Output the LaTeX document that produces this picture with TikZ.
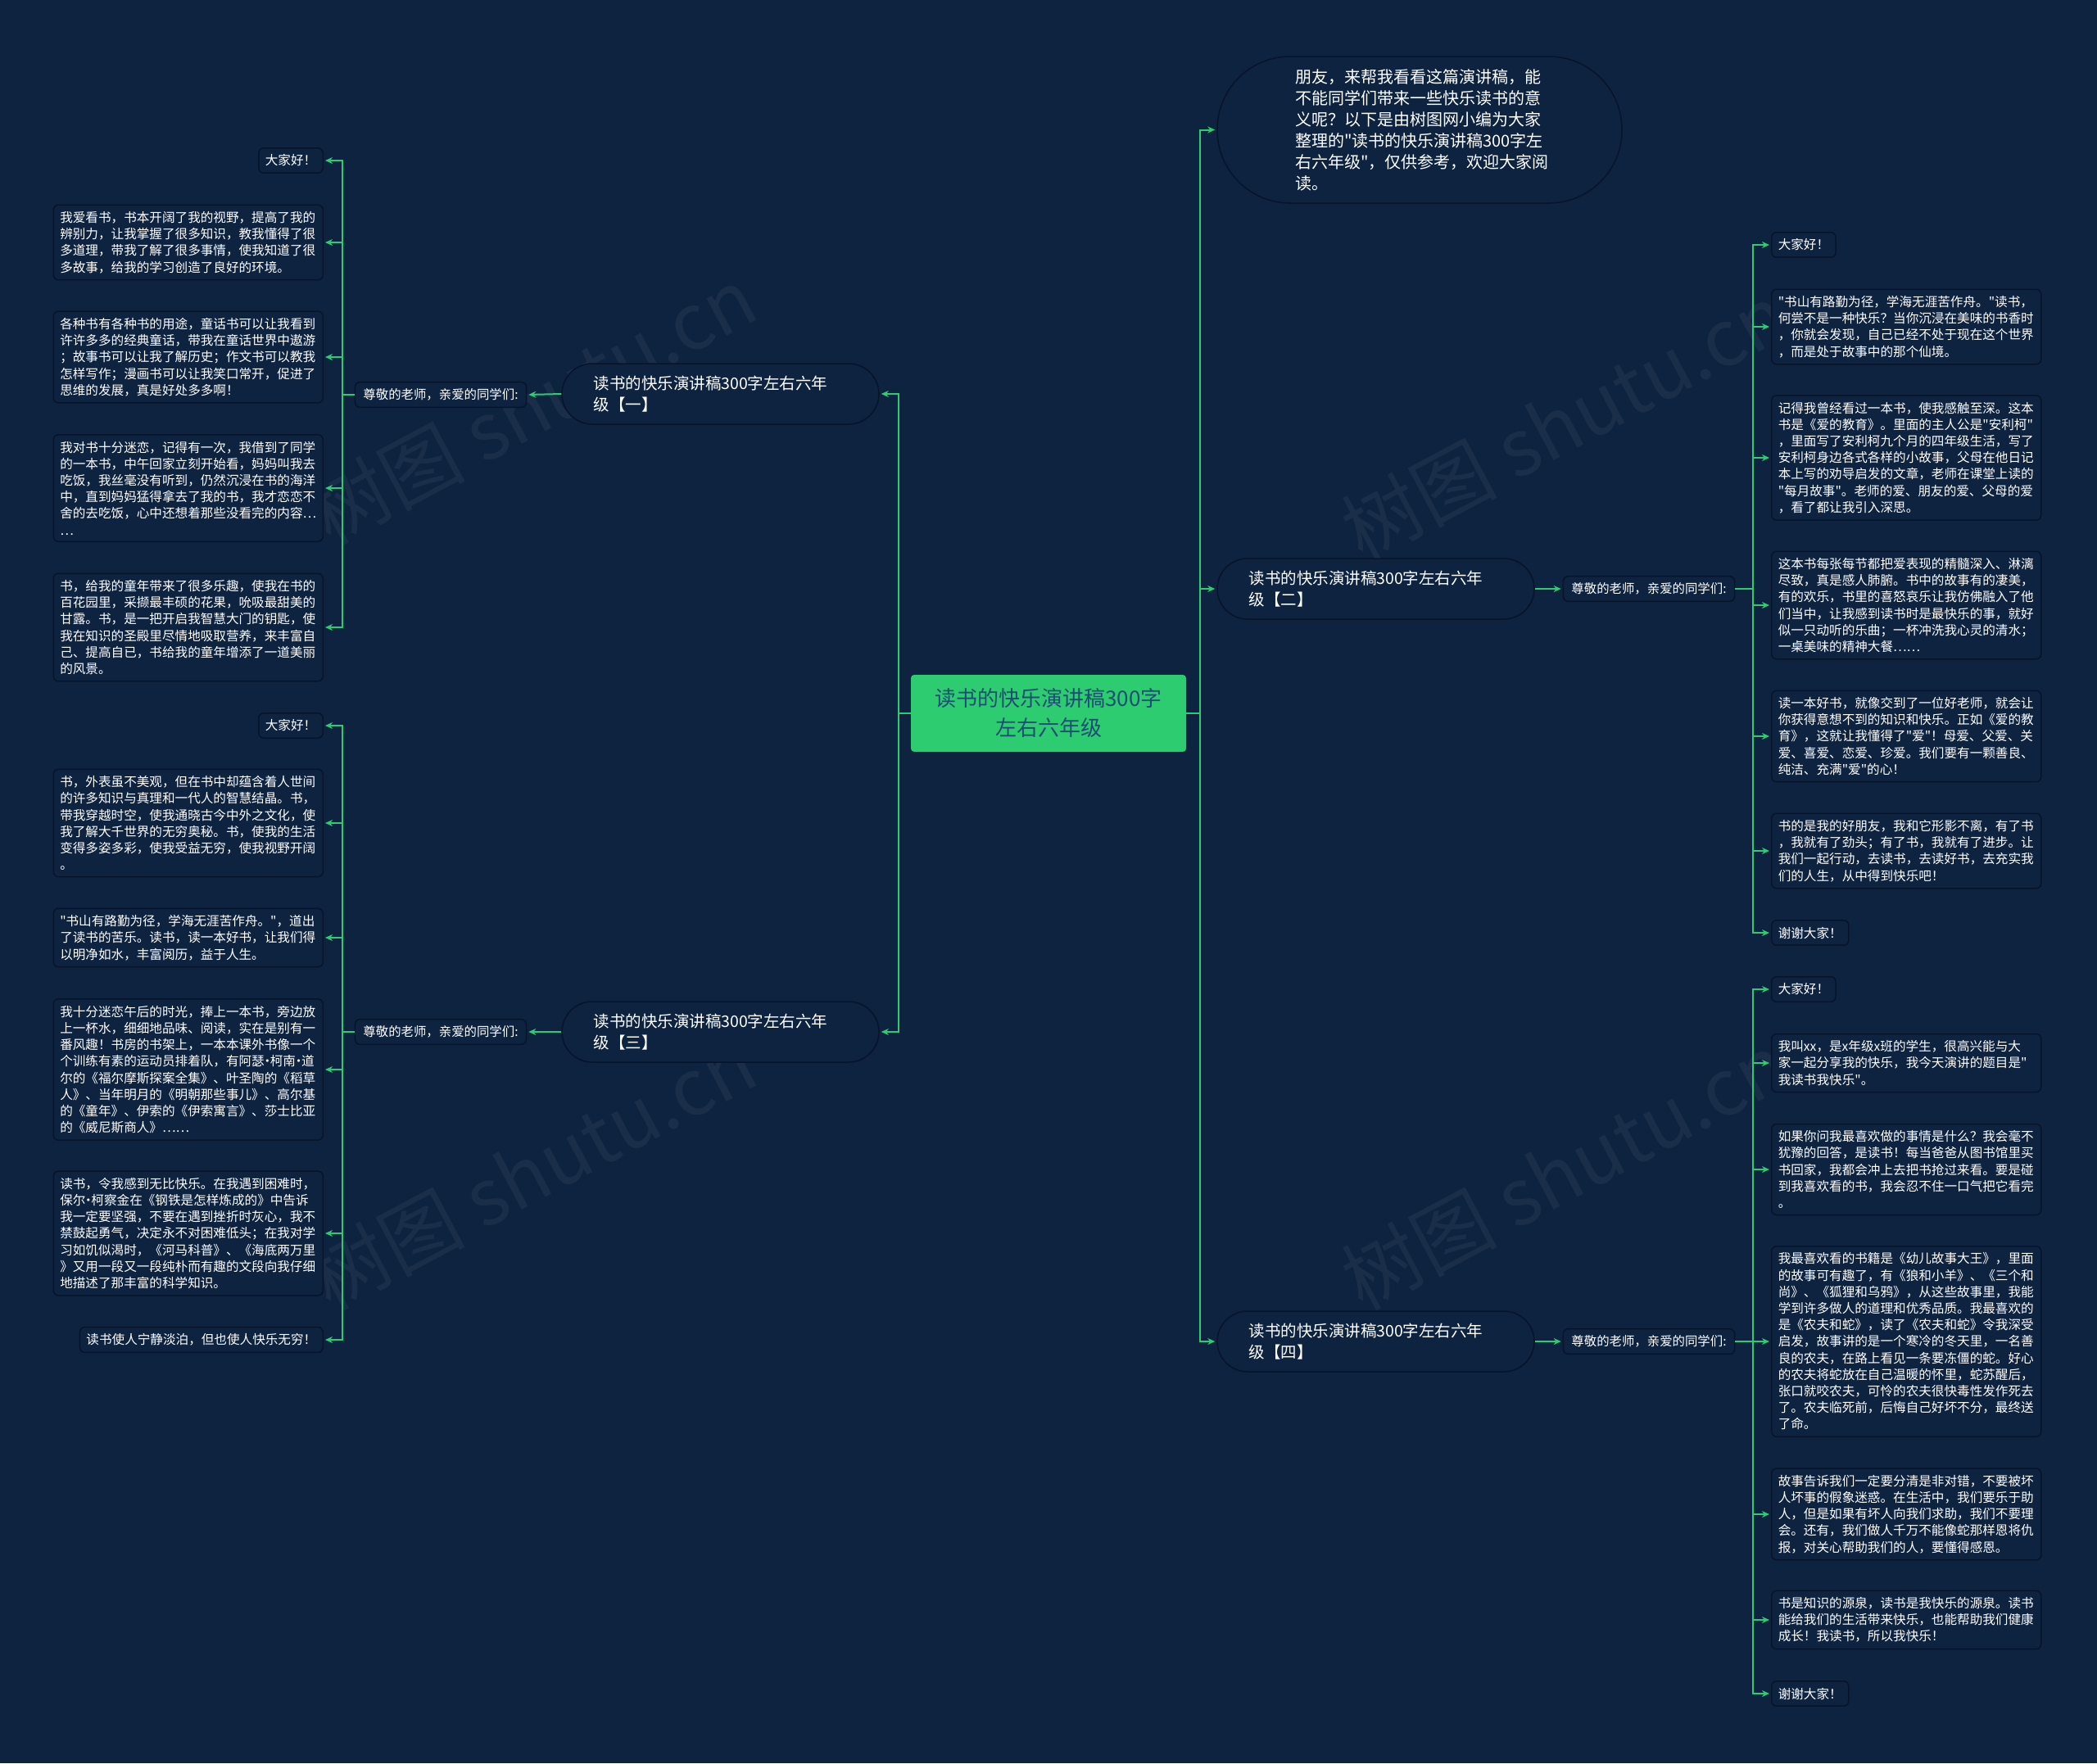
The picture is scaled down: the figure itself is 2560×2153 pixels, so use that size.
\documentclass[tikz,border=0pt]{standalone}
\usepackage{fontspec}
\setmainfont{Noto Sans CJK SC}
\newfontfamily\cjk{Noto Sans CJK SC}
\usetikzlibrary{arrows.meta}
\definecolor{bg}{HTML}{0E2340}
\definecolor{edgec}{HTML}{07142A}
\definecolor{grn}{HTML}{2ECC71}
\definecolor{ctxt}{HTML}{1B4F72}
\newcommand{\md}{\makebox[0.45em]{·}}
\tikzset{
  tbox/.style={draw=edgec, line width=1.5pt, fill=bg, rounded corners=6pt, text=white,
    font=\cjk\fontsize{15.6}{20.2}\selectfont, inner xsep=8pt, inner ysep=8pt, align=left},
  wide/.style={tbox, text width=313pt},
  lab/.style={tbox, font=\cjk\fontsize{15.4}{20}\selectfont, inner xsep=10pt},
  brnode/.style={draw=edgec, line width=1.5pt, fill=bg, rounded corners=37pt,
    minimum width=387pt, minimum height=74pt, text=white,
    font=\cjk\fontsize{19.5}{26}\selectfont, align=left, text width=310pt, inner sep=0pt},
  ctr/.style={fill=grn, rounded corners=4pt, minimum width=336pt, minimum height=94pt,
    text=ctxt, font=\cjk\fontsize{26}{36}\selectfont, align=center},
  bub/.style={draw=edgec, line width=1.5pt, fill=bg, rounded corners=89pt,
    minimum width=494pt, minimum height=179pt, text=white,
    font=\cjk\fontsize{20}{26}\selectfont, align=left, text width=304pt},
  conn/.style={draw=grn, line width=2pt},
  arr/.style={conn, -{Stealth[length=9pt,width=8pt]}, shorten >=2pt},
  wm/.style={rotate=28, opacity=0.05, text=white, font=\cjk\fontsize{95}{95}\selectfont}
}
\begin{document}
\begin{tikzpicture}[x=1pt,y=-1pt]
\fill[bg] (0,0) rectangle (2560,2153);
\useasboundingbox (0,0) rectangle (2560,2153);

% watermarks
\node[wm] (w1) at (650,495) {树图 shutu.cn};
\node[wm] (w2) at (650,1430) {树图 shutu.cn};
\node[wm] (w3) at (1910,515) {树图 shutu.cn};
\node[wm] (w4) at (1910,1430) {树图 shutu.cn};

% centre and branches
\node[ctr] (c) at (1280,871) {读书的快乐演讲稿300字\\左右六年级};
\node[bub] (top) at (1733,158.5) {朋友，来帮我看看这篇演讲稿，能\\不能同学们带来一些快乐读书的意\\义呢？以下是由树图网小编为大家\\整理的"读书的快乐演讲稿300字左\\右六年级"，仅供参考，欢迎大家阅\\读。};
\node[brnode] (b1) at (879.5,481) {读书的快乐演讲稿300字左右六年\\级【一】};
\node[brnode] (b3) at (879.5,1260) {读书的快乐演讲稿300字左右六年\\级【三】};
\node[brnode] (b2) at (1679.5,719) {读书的快乐演讲稿300字左右六年\\级【二】};
\node[brnode] (b4) at (1679.5,1638) {读书的快乐演讲稿300字左右六年\\级【四】};

% labels
\node[lab] (l1) at (538,482) {尊敬的老师，亲爱的同学们:};
\node[lab] (l3) at (538,1260) {尊敬的老师，亲爱的同学们:};
\node[lab] (l2) at (2013,719) {尊敬的老师，亲爱的同学们:};
\node[lab] (l4) at (2013,1638) {尊敬的老师，亲爱的同学们:};

% left group 1
\node[tbox, anchor=east] (a1) at (395,196) {大家好！};
\node[wide, anchor=east] (a2) at (395,296) {我爱看书，书本开阔了我的视野，提高了我的\\辨别力，让我掌握了很多知识，教我懂得了很\\多道理，带我了解了很多事情，使我知道了很\\多故事，给我的学习创造了良好的环境。};
\node[wide, anchor=east] (a3) at (395,436) {各种书有各种书的用途，童话书可以让我看到\\许许多多的经典童话，带我在童话世界中遨游\\；故事书可以让我了解历史；作文书可以教我\\怎样写作；漫画书可以让我笑口常开，促进了\\思维的发展，真是好处多多啊！};
\node[wide, anchor=east] (a4) at (395,596) {我对书十分迷恋，记得有一次，我借到了同学\\的一本书，中午回家立刻开始看，妈妈叫我去\\吃饭，我丝毫没有听到，仍然沉浸在书的海洋\\中，直到妈妈猛得拿去了我的书，我才恋恋不\\舍的去吃饭，心中还想着那些没看完的内容…\\…};
\node[wide, anchor=east] (a5) at (395,766) {书，给我的童年带来了很多乐趣，使我在书的\\百花园里，采撷最丰硕的花果，吮吸最甜美的\\甘露。书，是一把开启我智慧大门的钥匙，使\\我在知识的圣殿里尽情地吸取营养，来丰富自\\己、提高自已，书给我的童年增添了一道美丽\\的风景。};

% left group 3
\node[tbox, anchor=east] (d1) at (395,886) {大家好！};
\node[wide, anchor=east] (d2) at (395,1005) {书，外表虽不美观，但在书中却蕴含着人世间\\的许多知识与真理和一代人的智慧结晶。书，\\带我穿越时空，使我通晓古今中外之文化，使\\我了解大千世界的无穷奥秘。书，使我的生活\\变得多姿多彩，使我受益无穷，使我视野开阔\\。};
\node[wide, anchor=east] (d3) at (395,1145) {"书山有路勤为径，学海无涯苦作舟。"，道出\\了读书的苦乐。读书，读一本好书，让我们得\\以明净如水，丰富阅历，益于人生。};
\node[wide, anchor=east] (d4) at (395,1306) {我十分迷恋午后的时光，捧上一本书，旁边放\\上一杯水，细细地品味、阅读，实在是别有一\\番风趣！书房的书架上，一本本课外书像一个\\个训练有素的运动员排着队，有阿瑟\md 柯南\md 道\\尔的《福尔摩斯探案全集》、叶圣陶的《稻草\\人》、当年明月的《明朝那些事儿》、高尔基\\的《童年》、伊索的《伊索寓言》、莎士比亚\\的《威尼斯商人》……};
\node[wide, anchor=east] (d5) at (395,1506) {读书，令我感到无比快乐。在我遇到困难时，\\保尔\md 柯察金在《钢铁是怎样炼成的》中告诉\\我一定要坚强，不要在遇到挫折时灰心，我不\\禁鼓起勇气，决定永不对困难低头；在我对学\\习如饥似渴时，《河马科普》、《海底两万里\\》又用一段又一段纯朴而有趣的文段向我仔细\\地描述了那丰富的科学知识。};
\node[tbox, anchor=east] (d6) at (395,1636) {读书使人宁静淡泊，但也使人快乐无穷！};

% right group 2
\node[tbox, anchor=west] (r1) at (2162,299) {大家好！};
\node[wide, anchor=west] (r2) at (2162,399) {"书山有路勤为径，学海无涯苦作舟。"读书，\\何尝不是一种快乐？当你沉浸在美味的书香时\\，你就会发现，自己已经不处于现在这个世界\\，而是处于故事中的那个仙境。};
\node[wide, anchor=west] (r3) at (2162,559) {记得我曾经看过一本书，使我感触至深。这本\\书是《爱的教育》。里面的主人公是"安利柯"\\，里面写了安利柯九个月的四年级生活，写了\\安利柯身边各式各样的小故事，父母在他日记\\本上写的劝导启发的文章，老师在课堂上读的\\"每月故事"。老师的爱、朋友的爱、父母的爱\\，看了都让我引入深思。};
\node[wide, anchor=west] (r4) at (2162,739) {这本书每张每节都把爱表现的精髓深入、淋漓\\尽致，真是感人肺腑。书中的故事有的凄美，\\有的欢乐，书里的喜怒哀乐让我仿佛融入了他\\们当中，让我感到读书时是最快乐的事，就好\\似一只动听的乐曲；一杯冲洗我心灵的清水；\\一桌美味的精神大餐……};
\node[wide, anchor=west] (r5) at (2162,899) {读一本好书，就像交到了一位好老师，就会让\\你获得意想不到的知识和快乐。正如《爱的教\\育》，这就让我懂得了"爱"！母爱、父爱、关\\爱、喜爱、恋爱、珍爱。我们要有一颗善良、\\纯洁、充满"爱"的心！};
\node[wide, anchor=west] (r6) at (2162,1039) {书的是我的好朋友，我和它形影不离，有了书\\，我就有了劲头；有了书，我就有了进步。让\\我们一起行动，去读书，去读好书，去充实我\\们的人生，从中得到快乐吧！};
\node[tbox, anchor=west] (r7) at (2162,1139) {谢谢大家！};

% right group 4
\node[tbox, anchor=west] (s1) at (2162,1208) {大家好！};
\node[wide, anchor=west] (s2) at (2162,1298) {我叫xx，是x年级x班的学生，很高兴能与大\\家一起分享我的快乐，我今天演讲的题目是"\\我读书我快乐"。};
\node[wide, anchor=west] (s3) at (2162,1428) {如果你问我最喜欢做的事情是什么？我会毫不\\犹豫的回答，是读书！每当爸爸从图书馆里买\\书回家，我都会冲上去把书抢过来看。要是碰\\到我喜欢看的书，我会忍不住一口气把它看完\\。};
\node[wide, anchor=west] (s4) at (2162,1638) {我最喜欢看的书籍是《幼儿故事大王》，里面\\的故事可有趣了，有《狼和小羊》、《三个和\\尚》、《狐狸和乌鸦》，从这些故事里，我能\\学到许多做人的道理和优秀品质。我最喜欢的\\是《农夫和蛇》，读了《农夫和蛇》令我深受\\启发，故事讲的是一个寒冷的冬天里，一名善\\良的农夫，在路上看见一条要冻僵的蛇。好心\\的农夫将蛇放在自己温暖的怀里，蛇苏醒后，\\张口就咬农夫，可怜的农夫很快毒性发作死去\\了。农夫临死前，后悔自己好坏不分，最终送\\了命。};
\node[wide, anchor=west] (s5) at (2162,1849) {故事告诉我们一定要分清是非对错，不要被坏\\人坏事的假象迷惑。在生活中，我们要乐于助\\人，但是如果有坏人向我们求助，我们不要理\\会。还有，我们做人千万不能像蛇那样恩将仇\\报，对关心帮助我们的人，要懂得感恩。};
\node[wide, anchor=west] (s6) at (2162,1978) {书是知识的源泉，读书是我快乐的源泉。读书\\能给我们的生活带来快乐，也能帮助我们健康\\成长！我读书，所以我快乐！};
\node[tbox, anchor=west] (s7) at (2162,2068) {谢谢大家！};

% junction coordinates
\coordinate (jl) at (1097,871);
\coordinate (jr) at (1465,871);
\coordinate (t1) at (418,482);
\coordinate (t3) at (418,1260);
\coordinate (t2) at (2140,719);
\coordinate (t4) at (2140,1638);

% connectors
\draw[conn] (c.west) -- (jl);
\draw[arr] (jl) |- (b1.east);
\draw[arr] (jl) |- (b3.east);
\draw[conn] (c.east) -- (jr);
\draw[arr] (jr) |- (top.west);
\draw[arr] (jr) |- (b2.west);
\draw[arr] (jr) |- (b4.west);

\draw[arr] (b1.west) -- (l1.east);
\draw[arr] (b3.west) -- (l3.east);
\draw[arr] (b2.east) -- (l2.west);
\draw[arr] (b4.east) -- (l4.west);

\draw[conn] (l1.west) -- (t1);
\draw[conn] (l3.west) -- (t3);
\draw[conn] (l2.east) -- (t2);
\draw[conn] (l4.east) -- (t4);

\foreach \n in {a1,a2,a3,a4,a5} \draw[arr] (t1) |- (\n.east);
\foreach \n in {d1,d2,d3,d4,d5,d6} \draw[arr] (t3) |- (\n.east);
\foreach \n in {r1,r2,r3,r4,r5,r6,r7} \draw[arr] (t2) |- (\n.west);
\foreach \n in {s1,s2,s3,s4,s5,s6,s7} \draw[arr] (t4) |- (\n.west);
\end{tikzpicture}
\end{document}
